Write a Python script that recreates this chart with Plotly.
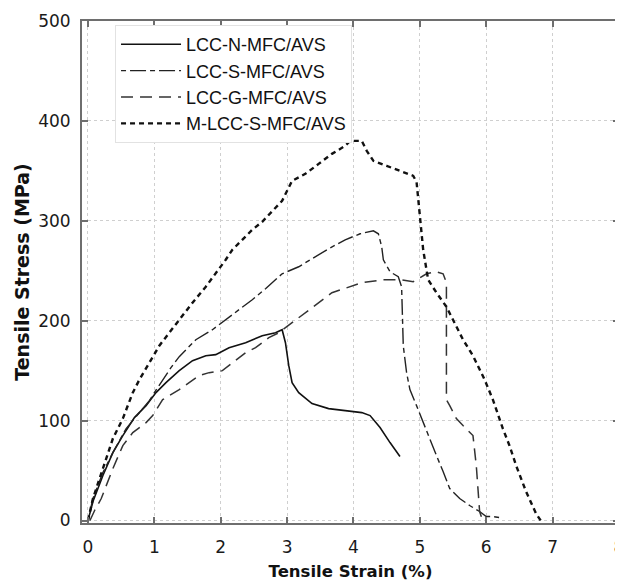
import plotly.graph_objects as go

# ---- data ----
n_strain = [0, 0.075, 0.225, 0.375, 0.525, 0.7, 0.875, 1.025, 1.175, 1.375, 1.575, 1.775, 1.925,
            2.125, 2.375, 2.625, 2.825, 2.925, 2.975, 3.025, 3.075, 3.175, 3.375, 3.625, 3.875,
            4.125, 4.25, 4.4, 4.55, 4.7]
n_stress = [0, 19, 45, 68, 85, 103, 115, 128, 138, 150, 160, 165, 166,
            173, 178, 185, 188, 191, 178, 155, 138, 128, 117, 112, 110,
            108, 105, 93, 78, 64]

s_strain = [0, 0.075, 0.225, 0.375, 0.575, 0.775, 0.925, 1.0, 1.125, 1.25, 1.375, 1.5, 1.625,
            1.875, 2.075, 2.275, 2.475, 2.675, 2.925, 3.175, 3.375, 3.625, 3.875, 4.1, 4.3,
            4.375, 4.425, 4.45, 4.55, 4.675, 4.725, 4.74, 4.75, 4.8, 4.85, 4.95, 5.05, 5.15,
            5.25, 5.35, 5.45, 5.6, 5.75, 5.9, 6.0, 6.1, 6.2]
s_stress = [0, 22, 48, 68, 92, 108, 120, 128, 141, 153, 164, 172, 181,
            191, 201, 211, 221, 232, 247, 254, 262, 272, 281, 287, 290,
            287, 274, 261, 249, 244, 234, 204, 175, 148, 131, 115, 98, 82,
            65, 49, 32, 22, 15, 9, 4, 4, 3]

g_strain = [0.03, 0.1, 0.2, 0.375, 0.525, 0.675, 0.875, 0.975, 1.125, 1.375, 1.675, 1.825, 2.025,
            2.175, 2.375, 2.525, 2.725, 2.875, 3.075, 3.375, 3.675, 4.125, 4.45, 4.7, 4.9,
            5.1, 5.25, 5.35, 5.4, 5.4, 5.4, 5.45, 5.55, 5.65, 5.8, 5.85, 5.875, 5.9, 5.94]
g_stress = [0, 10, 22, 52, 75, 88, 98, 105, 121, 131, 145, 148, 150,
            158, 168, 173, 183, 188, 198, 213, 228, 238, 241, 241, 239,
            247, 249, 247, 238, 188, 121, 115, 102, 95, 85, 55, 35, 9, 1]

m_strain = [0, 0.075, 0.175, 0.275, 0.375, 0.525, 0.675, 0.775, 0.925, 1.075, 1.225, 1.375, 1.575,
            1.775, 1.925, 2.075, 2.175, 2.325, 2.475, 2.625, 2.775, 2.925, 3.075, 3.275, 3.475,
            3.675, 3.875, 3.95, 4.025, 4.125, 4.2, 4.3, 4.5, 4.7, 4.9, 4.95, 5.0, 5.05, 5.125,
            5.25, 5.4, 5.5, 5.65, 5.8, 5.975, 6.1, 6.25, 6.35, 6.45, 6.6, 6.75, 6.82]
m_stress = [0, 22, 42, 62, 82, 102, 128, 141, 158, 175, 188, 201, 218,
            234, 247, 261, 271, 281, 291, 299, 309, 320, 340, 347, 357,
            367, 375, 380, 380, 380, 370, 360, 355, 350, 345, 339, 304, 271, 241,
            228, 214, 201, 181, 165, 141, 121, 92, 75, 55, 29, 7, 0]

series_names = ["LCC-N-MFC/AVS", "LCC-S-MFC/AVS", "LCC-G-MFC/AVS", "M-LCC-S-MFC/AVS"]
x_ticks = [0, 1, 2, 3, 4, 5, 6, 7, 8]
y_ticks = [0, 100, 200, 300, 400, 500]

FONT = "Liberation Sans, Arial, sans-serif"

fig = go.Figure()
fig.add_trace(go.Scatter(x=n_strain, y=n_stress, mode="lines", name=series_names[0],
                         line=dict(color="#111111", width=1.6, dash="solid")))
fig.add_trace(go.Scatter(x=s_strain, y=s_stress, mode="lines", name=series_names[1],
                         line=dict(color="#222222", width=1.4, dash="5px,4px,16px,4px")))
fig.add_trace(go.Scatter(x=g_strain, y=g_stress, mode="lines", name=series_names[2],
                         line=dict(color="#333333", width=1.5, dash="12px,7px")))
fig.add_trace(go.Scatter(x=m_strain, y=m_stress, mode="lines", name=series_names[3],
                         line=dict(color="#111111", width=2.4, dash="5px,4px")))

axis_common = dict(
    showline=True, linecolor="#6e6e6e", linewidth=2, mirror="ticks",
    ticks="inside", ticklen=6, tickwidth=1.5, tickcolor="#6e6e6e",
    showgrid=True, gridcolor="#cfcfcf", griddash="dot", gridwidth=1,
    zeroline=False, automargin=False, ticklabeloverflow="allow",
    tickfont=dict(family="DejaVu Sans, sans-serif", size=17, color="#1a1a1a"),
)

fig.update_xaxes(range=[-0.09, 8.0], tickvals=x_ticks, ticktext=[str(v) for v in x_ticks],
                 ticklabelstandoff=8,
                 title=dict(text="<b>Tensile Strain (%)</b>",
                            font=dict(family="DejaVu Sans, sans-serif", size=16.5, color="#111111"),
                            standoff=10),
                 **axis_common)
fig.update_yaxes(range=[-2.5, 500], tickvals=y_ticks, ticktext=[str(v) for v in y_ticks],
                 ticklabelstandoff=6,
                 title=dict(text="<b>Tensile Stress (MPa)</b>",
                            font=dict(family="DejaVu Sans, sans-serif", size=19, color="#111111"),
                            standoff=3),
                 **axis_common)

# the page body adds an 8px offset, so the figure is sized to end at the window edge
fig.update_layout(
    width=615, height=573,
    margin=dict(l=74, r=4, t=13, b=58),
    paper_bgcolor="white", plot_bgcolor="white",
    font=dict(family=FONT, color="#111111"),
    showlegend=True,
    legend=dict(x=0.0615, y=0.992, xanchor="left", yanchor="top",
                bgcolor="white", bordercolor="#e2e2e2", borderwidth=1,
                font=dict(family=FONT, size=18, color="#111111"),
                itemwidth=60, tracegroupgap=0),
)

fig.write_html("out.html")
